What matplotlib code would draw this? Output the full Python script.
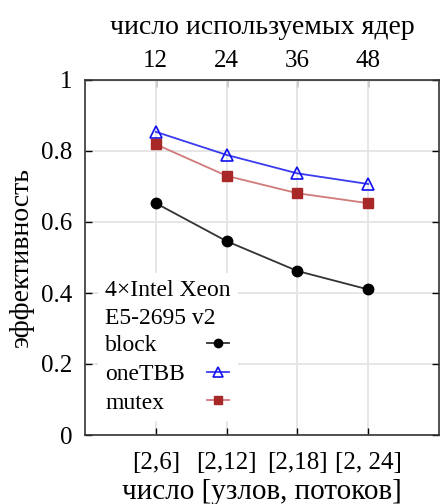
import matplotlib
matplotlib.use("Agg")
import matplotlib.pyplot as plt

# data
groups = ["[2,6]", "[2,12]", "[2,18]", "[2, 24]"]
cores = ["12", "24", "36", "48"]
block = [0.653, 0.546, 0.462, 0.410]
onetbb = [0.854, 0.789, 0.737, 0.707]
mutex = [0.819, 0.730, 0.681, 0.653]

plt.rcParams['font.family'] = ['Liberation Serif', 'DejaVu Serif']
plt.rcParams['font.size'] = 18

fig = plt.figure(figsize=(4.4, 5.04), dpi=100)
ax = fig.add_axes([85/440, 69/504, 354/440, 355/504])

x = list(range(1, len(groups) + 1))
ax.plot(x, block, color='#333333', lw=1.3, marker='o', ms=7.5,
        mfc='black', mec='black', label='block', zorder=3)
ax.plot(x, onetbb, color='#3a3af0', lw=1.3, marker='^', ms=9,
        mfc='none', mec='#1010f0', mew=1.2, label='oneTBB', zorder=3)
ax.plot(x, mutex, color='#d07a7a', lw=1.3, marker='s', ms=7.5,
        mfc='#a82828', mec='#a82828', label='mutex', zorder=3)

ax.set_xlim(0, 5)
ax.set_ylim(0, 1)
ax.set_xticks(x)
ax.set_xticklabels(groups)
ax.set_yticks([0, 0.2, 0.4, 0.6, 0.8, 1])
ax.set_yticklabels(['0', '0.2', '0.4', '0.6', '0.8', '1'])
ax.grid(True, color='#e4e4e4', lw=1.3, zorder=0)
ax.tick_params(direction='in', length=5, width=1, right=True)
ax.tick_params(axis='x', pad=12)
ax.tick_params(axis='y', pad=9)
for s in ax.spines.values():
    s.set_linewidth(1.2)
    s.set_color('#333333')

ax.set_xlabel('число [узлов, потоков]', fontsize=21, labelpad=4)
ax.set_ylabel('эффективность', fontsize=20, labelpad=5)

top = ax.secondary_xaxis('top')
top.set_xticks(x)
top.set_xticklabels(cores)
top.tick_params(direction='in', length=5, width=1, pad=6)
top.set_xlabel('число используемых ядер', fontsize=20, labelpad=11)

leg = ax.legend(title='4×Intel Xeon\nE5-2695 v2', loc='lower left',
                bbox_to_anchor=(0.037, 0.04), borderaxespad=0,
                markerfirst=False, frameon=True, framealpha=1,
                edgecolor='white', fancybox=False, markerscale=0.8,
                handlelength=0.9, borderpad=0.3, labelspacing=0.3,
                handletextpad=0.95, alignment='left', fontsize=17,
                title_fontsize=17)
leg.get_frame().set_linewidth(0)
leg.get_title().set_linespacing(1.45)
leg._legend_box.sep = 4

# left-align the labels while keeping the handles in one column
fig.canvas.draw()
r = fig.canvas.get_renderer()
widths = [t.get_window_extent(r).width * 72 / fig.dpi for t in leg.get_texts()]
rows = leg._legend_handle_box.get_children()[0].get_children()
for row, w in zip(rows, widths):
    row.sep += max(widths) - w

fig.savefig('out.png', dpi=100)
